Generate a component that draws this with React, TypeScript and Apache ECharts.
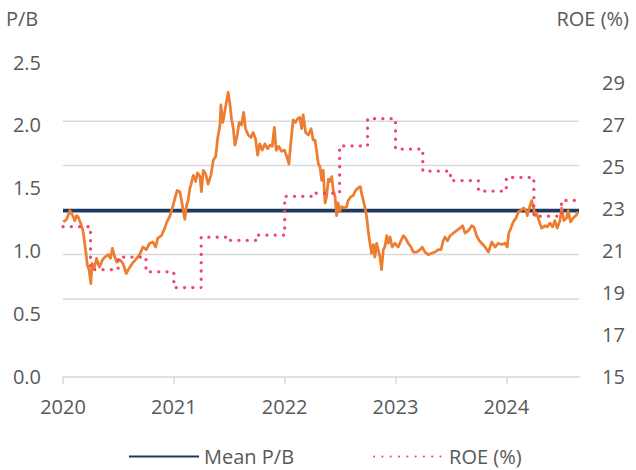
import React, { useEffect, useRef } from 'react';
import * as echarts from 'echarts';

// ---- data ----
const xStart = '2020-01-01';
const xEnd = '2024-08-28';
const yearTicks = [2020, 2021, 2022, 2023, 2024];

const meanPB = 1.32;

const roeDates = [
  '2020-01-01', '2020-04-01', '2020-07-01', '2020-10-01',
  '2021-01-01', '2021-04-01', '2021-07-01', '2021-10-01',
  '2022-01-01', '2022-04-01', '2022-07-01', '2022-10-01',
  '2023-01-01', '2023-04-01', '2023-07-01', '2023-10-01',
  '2024-01-01', '2024-04-01', '2024-07-01', '2024-08-28',
];
const roeValues = [
  22.15, 20.1, 20.7, 20.0,
  19.25, 21.65, 21.5, 21.75,
  23.6, 23.75, 26.0, 27.3,
  25.85, 24.8, 24.35, 23.85,
  24.5, 22.65, 23.4, 23.4,
];

const pb2020: [string, number][] = [
  ['2020-01-02', 1.23], ['2020-01-13', 1.25], ['2020-01-24', 1.32], ['2020-02-02', 1.28],
  ['2020-02-09', 1.24], ['2020-02-15', 1.28], ['2020-02-20', 1.27], ['2020-02-28', 1.22],
  ['2020-03-06', 1.17], ['2020-03-10', 1.11], ['2020-03-17', 0.98], ['2020-03-21', 0.89],
  ['2020-03-27', 0.85], ['2020-04-02', 0.74], ['2020-04-06', 0.9], ['2020-04-13', 0.86],
  ['2020-04-21', 0.94], ['2020-04-30', 0.87], ['2020-05-11', 0.93], ['2020-05-18', 0.95],
  ['2020-05-30', 0.97], ['2020-06-06', 0.94], ['2020-06-12', 1.02], ['2020-06-20', 0.95],
  ['2020-06-27', 0.91], ['2020-07-06', 0.93], ['2020-07-17', 0.9], ['2020-07-28', 0.82],
  ['2020-08-06', 0.86], ['2020-08-17', 0.9], ['2020-08-28', 0.93], ['2020-09-10', 0.97],
  ['2020-09-21', 1.03], ['2020-10-02', 1.01], ['2020-10-13', 1.06], ['2020-10-24', 1.07],
  ['2020-11-02', 1.03], ['2020-11-09', 1.1], ['2020-11-21', 1.12], ['2020-12-02', 1.18],
  ['2020-12-09', 1.23], ['2020-12-18', 1.27], ['2020-12-27', 1.34],
];
const pb2021: [string, number][] = [
  ['2021-01-05', 1.42], ['2021-01-12', 1.48], ['2021-01-21', 1.47], ['2021-01-30', 1.35],
  ['2021-02-06', 1.25], ['2021-02-12', 1.36], ['2021-02-17', 1.4], ['2021-02-23', 1.5],
  ['2021-02-26', 1.52], ['2021-03-06', 1.6], ['2021-03-14', 1.55], ['2021-03-20', 1.62],
  ['2021-03-28', 1.59], ['2021-04-02', 1.47], ['2021-04-08', 1.64], ['2021-04-16', 1.61],
  ['2021-04-24', 1.53], ['2021-05-03', 1.6], ['2021-05-11', 1.72], ['2021-05-19', 1.75],
  ['2021-05-25', 1.89], ['2021-06-02', 2.0], ['2021-06-05', 2.16], ['2021-06-11', 2.02],
  ['2021-06-16', 2.08], ['2021-06-23', 2.18], ['2021-06-29', 2.26], ['2021-07-05', 2.16],
  ['2021-07-10', 2.05], ['2021-07-16', 1.97], ['2021-07-21', 1.84], ['2021-07-29', 1.92],
  ['2021-08-04', 2.02], ['2021-08-12', 2.0], ['2021-08-19', 2.1], ['2021-08-25', 1.97],
  ['2021-09-03', 1.92], ['2021-09-12', 1.9], ['2021-09-19', 1.94], ['2021-09-27', 1.89],
  ['2021-10-04', 1.76], ['2021-10-11', 1.85], ['2021-10-19', 1.8], ['2021-10-28', 1.85],
  ['2021-11-06', 1.81], ['2021-11-13', 1.84], ['2021-11-21', 1.83], ['2021-11-28', 1.98],
  ['2021-12-04', 1.8], ['2021-12-13', 1.83], ['2021-12-22', 1.79], ['2021-12-31', 1.8],
];
const pb2022: [string, number][] = [
  ['2022-01-08', 1.75], ['2022-01-15', 1.69], ['2022-01-22', 1.88], ['2022-01-29', 2.04],
  ['2022-02-06', 2.02], ['2022-02-13', 2.05], ['2022-02-20', 2.06], ['2022-02-26', 1.97],
  ['2022-03-03', 2.08], ['2022-03-11', 1.94], ['2022-03-20', 1.92], ['2022-03-29', 1.97],
  ['2022-04-05', 1.88], ['2022-04-11', 1.88], ['2022-04-16', 1.8], ['2022-04-22', 1.69],
  ['2022-04-27', 1.67], ['2022-05-03', 1.56], ['2022-05-08', 1.64], ['2022-05-14', 1.38],
  ['2022-05-19', 1.43], ['2022-05-25', 1.57], ['2022-05-30', 1.55], ['2022-06-05', 1.59],
  ['2022-06-10', 1.48], ['2022-06-16', 1.43], ['2022-06-21', 1.28], ['2022-06-26', 1.38],
  ['2022-07-02', 1.32], ['2022-07-08', 1.35], ['2022-07-16', 1.34], ['2022-07-24', 1.35],
  ['2022-07-29', 1.4], ['2022-08-07', 1.43], ['2022-08-15', 1.44], ['2022-08-23', 1.48],
  ['2022-08-31', 1.5], ['2022-09-07', 1.51], ['2022-09-13', 1.44], ['2022-09-22', 1.35],
  ['2022-09-28', 1.27], ['2022-10-03', 1.16], ['2022-10-09', 1.06], ['2022-10-14', 0.98],
  ['2022-10-20', 1.05], ['2022-10-25', 0.95], ['2022-10-31', 1.06], ['2022-11-05', 1.01],
  ['2022-11-11', 0.95], ['2022-11-16', 0.85], ['2022-11-22', 1.01], ['2022-11-27', 1.03],
  ['2022-12-03', 1.12], ['2022-12-08', 1.06], ['2022-12-14', 1.11], ['2022-12-21', 1.03],
  ['2022-12-30', 1.06],
];
const pb2023: [string, number][] = [
  ['2023-01-10', 1.03], ['2023-01-19', 1.08], ['2023-01-27', 1.12], ['2023-02-03', 1.1],
  ['2023-02-12', 1.06], ['2023-02-21', 1.03], ['2023-03-01', 0.99], ['2023-03-12', 0.99],
  ['2023-03-23', 1.01], ['2023-03-30', 1.03], ['2023-04-08', 0.99], ['2023-04-19', 0.97],
  ['2023-04-30', 0.98], ['2023-05-11', 0.99], ['2023-05-22', 1.01], ['2023-05-31', 1.01],
  ['2023-06-07', 1.08], ['2023-06-13', 1.11], ['2023-06-21', 1.08], ['2023-06-30', 1.12],
  ['2023-07-10', 1.14], ['2023-07-21', 1.16], ['2023-08-01', 1.18], ['2023-08-10', 1.2],
  ['2023-08-18', 1.14], ['2023-08-29', 1.16], ['2023-09-09', 1.2], ['2023-09-16', 1.19],
  ['2023-09-25', 1.12], ['2023-10-04', 1.08], ['2023-10-12', 1.06], ['2023-10-23', 1.03],
  ['2023-11-03', 0.99], ['2023-11-14', 1.07], ['2023-11-25', 1.03], ['2023-12-05', 1.06],
  ['2023-12-17', 1.05], ['2023-12-28', 1.06],
];
const pb2024: [string, number][] = [
  ['2024-01-04', 1.03], ['2024-01-09', 1.14], ['2024-01-16', 1.18], ['2024-01-24', 1.23],
  ['2024-02-02', 1.26], ['2024-02-10', 1.31], ['2024-02-18', 1.32], ['2024-02-27', 1.34],
  ['2024-03-06', 1.32], ['2024-03-10', 1.28], ['2024-03-17', 1.34], ['2024-03-25', 1.4],
  ['2024-03-30', 1.35], ['2024-04-05', 1.28], ['2024-04-10', 1.3], ['2024-04-19', 1.23],
  ['2024-04-27', 1.18], ['2024-05-08', 1.2], ['2024-05-15', 1.19], ['2024-05-24', 1.22],
  ['2024-06-02', 1.19], ['2024-06-09', 1.24], ['2024-06-17', 1.18], ['2024-06-26', 1.24],
  ['2024-07-02', 1.34], ['2024-07-09', 1.24], ['2024-07-18', 1.26], ['2024-07-23', 1.32],
  ['2024-07-31', 1.23], ['2024-08-09', 1.26], ['2024-08-18', 1.28], ['2024-08-25', 1.31],
];

// horizontal gridline levels of the reference, in P/B-axis units
const gridLevels = [0.617, 0.971, 1.325, 1.678, 2.029];

// ---- helpers: calendar date -> fractional year (position on the value axis) ----
const toYear = (s: string) => {
  const [y, m, d] = s.split('-').map(Number);
  const t = Date.UTC(y, m - 1, d);
  const a = Date.UTC(y, 0, 1);
  const b = Date.UTC(y + 1, 0, 1);
  return y + (t - a) / (b - a);
};

const NAVY = '#1f3a5f';
const ORANGE = '#ed7d31';
const PINK = '#f0466e';
const GRID = '#d9d9d9';
const TEXT = '#595959';
const FONT = 'Open Sans';

export default function App() {
  const ref = useRef<HTMLDivElement>(null);

  useEffect(() => {
    if (!ref.current) return;
    const chart = echarts.init(ref.current, undefined, { renderer: 'svg' });
    const pbData = [...pb2020, ...pb2021, ...pb2022, ...pb2023, ...pb2024].map(
      ([d, v]) => [toYear(d), v]
    );
    const roeData = roeDates.map((d, i) => [toYear(d), roeValues[i]]);
    const meanData = [
      [toYear(xStart), meanPB],
      [toYear(xEnd), meanPB],
    ];

    const titles = [
      {
        type: 'text',
        left: 6,
        top: 8,
        style: { text: 'P/B', fontSize: 20, fill: TEXT, fontFamily: FONT },
      },
      {
        type: 'text',
        right: 7,
        top: 8,
        style: { text: 'ROE (%)', fontSize: 20, fill: TEXT, fontFamily: FONT },
      },
    ];

    chart.setOption({
      animation: false,
      backgroundColor: '#ffffff',
      textStyle: { fontFamily: FONT },
      grid: { left: 63, right: 57, top: 62, bottom: 93.3 },
      xAxis: {
        type: 'value',
        min: toYear(xStart),
        max: toYear(xEnd),
        axisLine: { show: true, onZero: false, lineStyle: { color: GRID, width: 1.5 } },
        axisTick: {
          show: true,
          length: 7,
          customValues: yearTicks,
          lineStyle: { color: GRID, width: 1.5 },
        },
        axisLabel: {
          customValues: yearTicks,
          showMinLabel: true,
          formatter: (v: number) => String(Math.round(v)),
          fontSize: 20,
          color: TEXT,
          fontFamily: FONT,
          margin: 20,
        },
        splitLine: { show: false },
      },
      yAxis: [
        {
          type: 'value',
          position: 'left',
          min: 0,
          max: 2.5,
          interval: 0.5,
          axisLine: { show: false },
          axisTick: { show: false },
          splitLine: { show: false },
          axisLabel: {
            formatter: (v: number) => v.toFixed(1),
            fontSize: 20,
            color: TEXT,
            fontFamily: FONT,
            margin: 22,
          },
        },
        {
          type: 'value',
          position: 'right',
          min: 15,
          max: 30,
          interval: 1,
          axisLine: { show: false },
          axisTick: { show: false },
          splitLine: { show: false },
          axisLabel: {
            formatter: (v: number) => (v % 2 === 1 && v < 30 ? String(v) : ''),
            fontSize: 20,
            color: TEXT,
            fontFamily: FONT,
            margin: 23,
          },
        },
      ],
      legend: {
        data: ['Mean P/B', 'ROE (%)'],
        left: 128,
        top: 446.5,
        padding: 0,
        itemWidth: 70,
        itemHeight: 20,
        itemGap: 79,
        itemStyle: { opacity: 0 },
        textStyle: { fontSize: 20, lineHeight: 20, color: TEXT, fontFamily: FONT },
      },
      graphic: titles,
      series: [
        {
          name: 'Mean P/B',
          type: 'line',
          yAxisIndex: 0,
          data: meanData,
          symbol: 'none',
          lineStyle: { color: NAVY, width: 3.75 },
          itemStyle: { color: NAVY },
          z: 2,
        },
        {
          name: 'P/B',
          type: 'line',
          yAxisIndex: 0,
          data: pbData,
          symbol: 'none',
          lineStyle: { color: ORANGE, width: 2.75, join: 'round' },
          itemStyle: { color: ORANGE },
          z: 3,
        },
        {
          name: 'ROE (%)',
          type: 'line',
          yAxisIndex: 1,
          step: 'end',
          data: roeData,
          symbol: 'none',
          lineStyle: { color: PINK, width: 3.25, type: [0.1, 8.2], cap: 'round' },
          itemStyle: { color: PINK },
          z: 4,
        },
      ],
    });

    // gridlines placed through the chart's own scales
    const gx0 = chart.convertToPixel({ xAxisIndex: 0 }, toYear(xStart)) as number;
    const gx1 = chart.convertToPixel({ xAxisIndex: 0 }, toYear(xEnd)) as number;
    const gridGraphics = gridLevels.map((v) => {
      const gy = chart.convertToPixel({ yAxisIndex: 0 }, v) as number;
      return {
        type: 'line',
        silent: true,
        z: 0,
        shape: { x1: gx0, y1: gy, x2: gx1, y2: gy },
        style: { stroke: GRID, lineWidth: 1.5 },
      };
    });
    chart.setOption({ graphic: [...titles, ...gridGraphics] });

    return () => chart.dispose();
  }, []);

  return (
    <div
      ref={ref}
      style={{ position: 'fixed', left: 0, top: 0, width: 636, height: 470, background: '#fff' }}
    />
  );
}
